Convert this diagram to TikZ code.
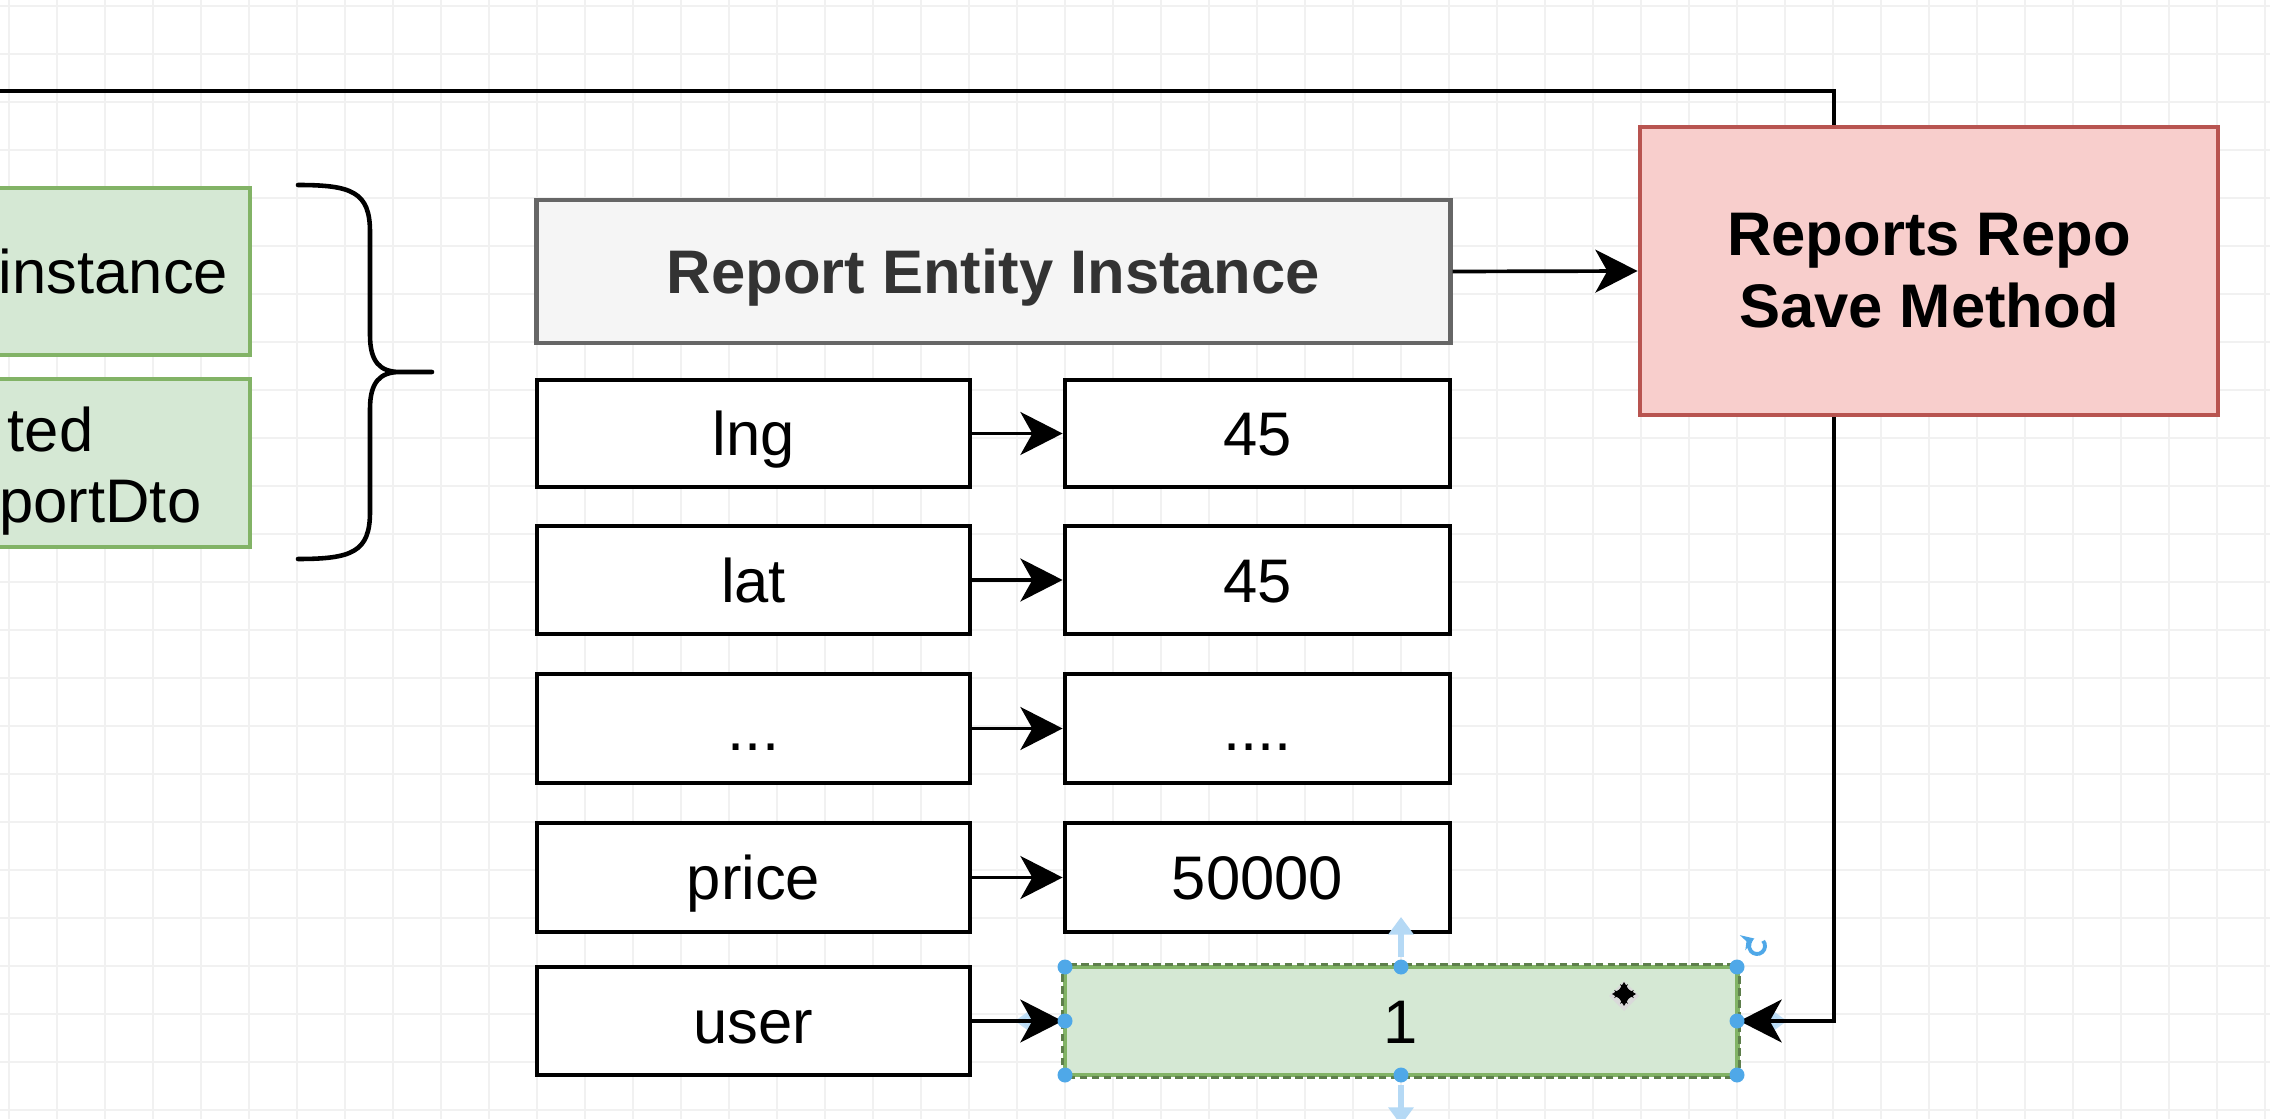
\documentclass[tikz,border=0pt]{standalone}
\usepackage{fontspec}
\setmainfont{Liberation Sans}
\usetikzlibrary{arrows.meta}

\definecolor{gridline}{HTML}{F1F1F1}
\definecolor{greenfill}{HTML}{D5E8D4}
\definecolor{greenline}{HTML}{82B366}
\definecolor{greendash}{HTML}{5E7F4C}
\definecolor{redfill}{HTML}{F8CECC}
\definecolor{redline}{HTML}{B85450}
\definecolor{greyfill}{HTML}{F5F5F5}
\definecolor{greyline}{HTML}{666666}
\definecolor{greytext}{HTML}{333333}
\definecolor{handleblue}{HTML}{4FA8E8}
\definecolor{hintblue}{HTML}{B5D9F5}

\newcommand\lblfont{\fontsize{17.5pt}{20.5pt}\selectfont}

\tikzset{
  cell/.style={draw=black, fill=white, line width=1.3pt, inner sep=0pt,
    text height=12.6pt, text depth=0pt, font=\lblfont},
  gbox/.style={draw=greenline, fill=greenfill, line width=1.3pt, inner sep=0pt,
    text height=12.6pt, text depth=0pt, font=\lblfont},
  conn/.style={line width=1.05pt, -{Stealth[length=12pt,width=12.2pt,inset=3.4pt]}},
  handle/.style={fill=handleblue, draw=none},
  hint/.style={draw=hintblue, line width=1.8pt, -{Triangle[length=5pt,width=7pt]}},
}

\begin{document}
\begin{tikzpicture}[x=0.01cm, y=-0.01cm]
\useasboundingbox (0,0) rectangle (2270,1119);
\clip (0,0) rectangle (2270,1119);
\fill[white] (0,0) rectangle (2270,1119);

% background grid
\foreach \gx in {0,...,47} {
  \draw[gridline, line width=0.35pt] (9+48*\gx,0) -- (9+48*\gx,1119);
}
\foreach \gy in {-2,...,21} {
  \draw[gridline, line width=0.35pt] (0,102+48*\gy) -- (2270,102+48*\gy);
}

% inputs on the left
\node[gbox, minimum width=2.73cm, minimum height=1.67cm] (inst) at (113.5,271.5) {instance};
\node[gbox, minimum width=2.73cm, minimum height=1.68cm] (dto) at (113.5,463) {};
\node[font=\lblfont, inner sep=0pt, anchor=base east] (dtoa) at (94,452) {ted};
\node[font=\lblfont, inner sep=0pt, anchor=base east] (dtob) at (202,523) {portDto};

% brace grouping the inputs
\draw[line width=1.3pt, line cap=round]
  (298,185) .. controls (352,185) and (370,192) .. (370,232)
  -- (370,335) .. controls (370,362) and (380,372) .. (400,372) -- (432,372)
  (400,372) .. controls (380,372) and (370,382) .. (370,409)
  -- (370,512) .. controls (370,552) and (352,559) .. (298,559);

% entity header
\node[draw=greyline, fill=greyfill, line width=1.3pt, inner sep=0pt,
  text height=12.6pt, text depth=0pt, text=greytext,
  font=\lblfont\bfseries, minimum width=9.13cm, minimum height=1.43cm]
  (rei) at (993.5,271.5) {Report Entity Instance};

% property / value rows
\node[cell, minimum width=4.33cm, minimum height=1.07cm] (k1) at (753.5,433.5) {lng};
\node[cell, minimum width=3.85cm, minimum height=1.07cm] (v1) at (1257.5,433.5) {45};
\node[cell, minimum width=4.33cm, minimum height=1.08cm] (k2) at (753.5,580) {lat};
\node[cell, minimum width=3.85cm, minimum height=1.08cm] (v2) at (1257.5,580) {45};
\node[cell, minimum width=4.33cm, minimum height=1.09cm] (k3) at (753.5,728.5) {...};
\node[cell, minimum width=3.85cm, minimum height=1.09cm] (v3) at (1257.5,728.5) {....};
\node[cell, minimum width=4.33cm, minimum height=1.09cm] (k4) at (753.5,877.5) {price};
\node[cell, minimum width=3.85cm, minimum height=1.09cm] (v4) at (1257.5,877.5) {50000};
\node[cell, minimum width=4.33cm, minimum height=1.08cm] (k5) at (753.5,1021) {user};
\node[gbox, minimum width=6.72cm, minimum height=1.08cm] (one) at (1401,1021) {1};
% selection outline over the value box border
\draw[greendash, line width=0.7pt, dash pattern=on 2.2pt off 1.2pt]
  (one.south west) rectangle (one.north east);

% faint drag hints behind the incoming arrows
\draw[hint, opacity=0.8] (1060,1021) -- (1015,1021);
\draw[hint, opacity=0.8] (1742,1021) -- (1787,1021);

\draw[conn] (k1.east) -- (v1.west);
\draw[conn] (k2.east) -- (v2.west);
\draw[conn] (k3.east) -- (v3.west);
\draw[conn] (k4.east) -- (v4.west);
\draw[conn] (k5.east) -- (one.west);

% returned id, routed behind the repository box
\coordinate (src) at (-30,91);
\draw[conn] (src) -- (1834,91) |- (one.east);

% repository
\node[draw=redline, fill=redfill, line width=1.3pt, inner sep=0pt, align=center,
  font=\lblfont\bfseries, minimum width=5.78cm, minimum height=2.88cm]
  (repo) at (1929,271) {Reports Repo\\Save Method};
\draw[conn] (rei.east) -- (repo.west);

% selection handles on the value box
\draw[hint] (1401,957) -- (1401,917);
\draw[hint] (1401,1085) -- (1401,1125);
\foreach \hx/\hy in {1065/967,1401/967,1737/967,1065/1021,1737/1021,1065/1075,1401/1075,1737/1075}{
  \fill[handle] (\hx,\hy) circle[radius=7.5];
}
\draw[handleblue, line width=1.1pt, -{Stealth[length=3.5pt,width=4.5pt]}]
  (1757,946) ++(-40:8) arc[start angle=-40, end angle=250, radius=8];

% move cursor
\fill[gray!30] (1624,981) -- (1639,996) -- (1624,1011) -- (1609,996) -- cycle;
\draw[line width=1.4pt, {Stealth[length=4.5pt,width=5.5pt]}-{Stealth[length=4.5pt,width=5.5pt]}]
  (1612,994) -- (1636,994);
\draw[line width=1.4pt, {Stealth[length=4.5pt,width=5.5pt]}-{Stealth[length=4.5pt,width=5.5pt]}]
  (1624,982) -- (1624,1006);
\end{tikzpicture}
\end{document}
